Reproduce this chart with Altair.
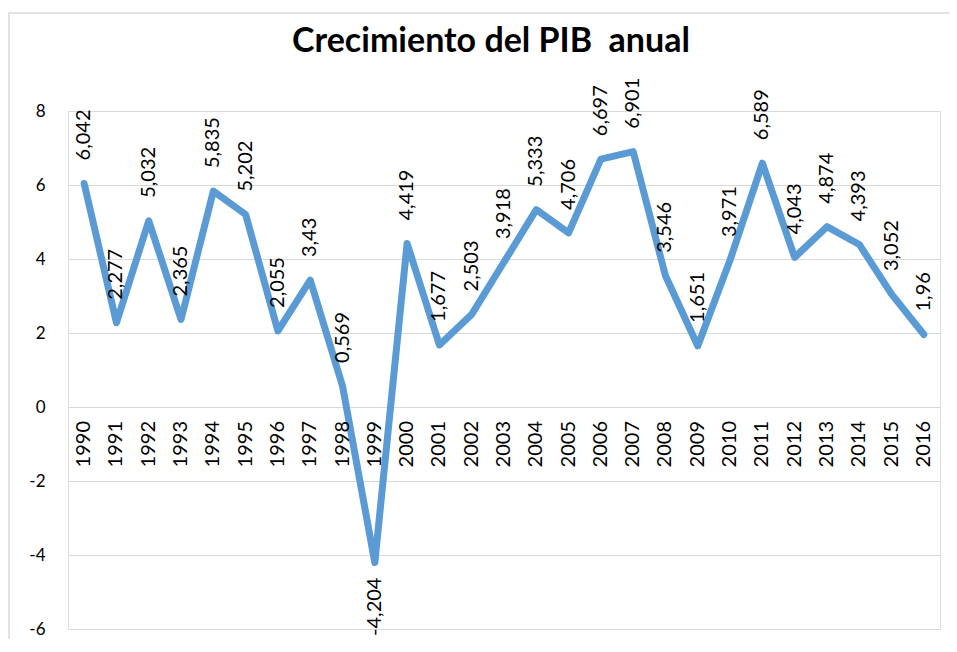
import altair as alt
import pandas as pd

years = ["1990", "1991", "1992", "1993", "1994", "1995", "1996", "1997", "1998",
         "1999", "2000", "2001", "2002", "2003", "2004", "2005", "2006", "2007",
         "2008", "2009", "2010", "2011", "2012", "2013", "2014", "2015", "2016"]
values = [6.042, 2.277, 5.032, 2.365, 5.835, 5.202, 2.055, 3.43, 0.569,
          -4.204, 4.419, 1.677, 2.503, 3.918, 5.333, 4.706, 6.697, 6.901,
          3.546, 1.651, 3.971, 6.589, 4.043, 4.874, 4.393, 3.052, 1.96]
labels = ["6,042", "2,277", "5,032", "2,365", "5,835", "5,202", "2,055", "3,43", "0,569",
          "-4,204", "4,419", "1,677", "2,503", "3,918", "5,333", "4,706", "6,697", "6,901",
          "3,546", "1,651", "3,971", "6,589", "4,043", "4,874", "4,393", "3,052", "1,96"]
y_ticks = [-6, -4, -2, 0, 2, 4, 6, 8]
title_text = ["Crecimiento del PIB\u00a0 anual"]

df = pd.DataFrame({"year": years, "pib": values, "label": labels})

FONT = "Lato"
BLUE = "#5b9bd5"
GRID = "#d9d9d9"

x = alt.X("year:O", scale=alt.Scale(type="point", padding=0.5), axis=None)
y = alt.Y(
    "pib:Q",
    scale=alt.Scale(domain=[-6, 8], nice=False, zero=False),
    axis=alt.Axis(
        values=y_ticks, grid=True, gridColor=GRID, gridWidth=1.2,
        domain=False, ticks=False, labelFont=FONT, labelFontSize=17,
        labelColor="#000000", labelPadding=23,
        labelExpr="toString(datum.value)", title=None,
    ),
)

base = alt.Chart(df)

border = alt.Chart(pd.DataFrame({"k": [0]})).mark_rect(
    fill="transparent", stroke=GRID, strokeWidth=1.5
).encode(
    x=alt.value(-59), x2=alt.value(960), y=alt.value(-98), y2=alt.value(700)
)

title = alt.Chart(pd.DataFrame({"t": title_text})).mark_text(
    font=FONT, fontSize=34, fontWeight="bold", color="#000000",
    align="center", baseline="alphabetic"
).encode(x=alt.value(423), y=alt.value(-59), text="t:N")

line = base.mark_line(
    color=BLUE, strokeWidth=7, strokeCap="round", strokeJoin="round"
).encode(x=x, y=y)

year_labels = base.mark_text(
    angle=270, align="right", baseline="middle", dx=-14,
    font=FONT, fontSize=20, color="#000000"
).encode(x=x, y=alt.Y(datum=0, type="quantitative"), text="year:N")

pos_labels = base.transform_filter("datum.pib >= 0").mark_text(
    angle=270, align="left", baseline="middle", dx=23,
    font=FONT, fontSize=20, color="#000000"
).encode(x=x, y=y, text="label:N")

neg_labels = base.transform_filter("datum.pib < 0").mark_text(
    angle=270, align="right", baseline="middle", dx=-15,
    font=FONT, fontSize=20, color="#000000"
).encode(x=x, y=y, text="label:N")

chart = alt.layer(border, title, line, year_labels, pos_labels, neg_labels).properties(
    width=872,
    height=518,
    autosize=alt.AutoSizeParams(type="none"),
    padding={"left": 60, "top": 103, "right": 9, "bottom": 10},
).configure_view(stroke=None).configure(background="white")

chart.save("out.html", embed_options={"renderer": "svg", "actions": False})
